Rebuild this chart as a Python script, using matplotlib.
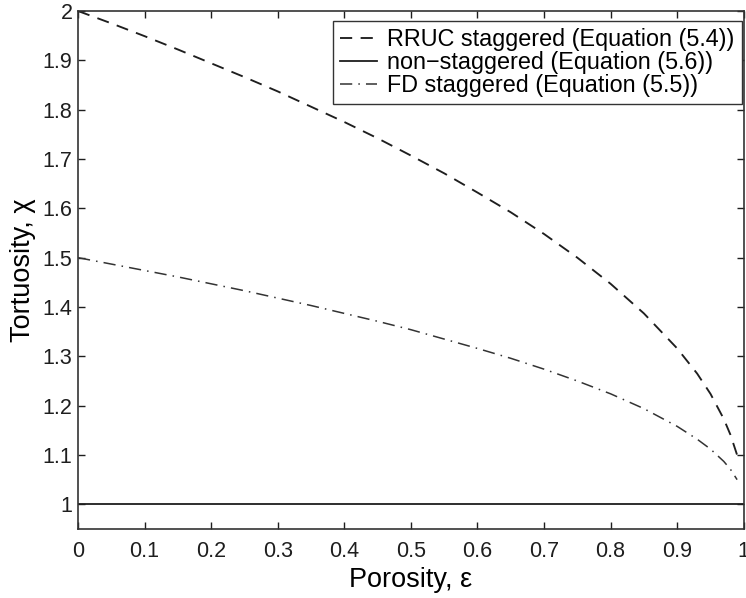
import matplotlib
matplotlib.use("Agg")
import matplotlib.pyplot as plt

plt.rcParams['font.family'] = ['Liberation Sans', 'DejaVu Sans']

porosity = [0.0, 0.05, 0.1, 0.15, 0.2, 0.25, 0.3, 0.35, 0.4, 0.45, 0.5, 0.55,
            0.6, 0.65, 0.7, 0.75, 0.8, 0.85, 0.9, 0.93, 0.95, 0.97, 0.98, 0.99]
rruc_staggered = [2.000, 1.975, 1.949, 1.922, 1.894, 1.866, 1.837, 1.806, 1.775,
                  1.742, 1.707, 1.671, 1.632, 1.592, 1.548, 1.500, 1.447, 1.387,
                  1.316, 1.265, 1.224, 1.173, 1.141, 1.100]
fd_staggered = [1.500, 1.487, 1.474, 1.461, 1.447, 1.433, 1.418, 1.403, 1.387,
                1.371, 1.354, 1.335, 1.316, 1.296, 1.274, 1.250, 1.224, 1.194,
                1.158, 1.132, 1.112, 1.087, 1.071, 1.050]
nonstag_x = [0.0, 1.0]
nonstag_y = [1.0, 1.0]

labels = ["RRUC staggered (Equation (5.4))",
          "non\u2212staggered (Equation (5.6))",
          "FD staggered (Equation (5.5))"]
xticks = [0, 0.1, 0.2, 0.3, 0.4, 0.5, 0.6, 0.7, 0.8, 0.9, 1]
xticklabels = ['0', '0.1', '0.2', '0.3', '0.4', '0.5', '0.6', '0.7', '0.8', '0.9', '1']
yticks = [1, 1.1, 1.2, 1.3, 1.4, 1.5, 1.6, 1.7, 1.8, 1.9, 2]
yticklabels = ['1', '1.1', '1.2', '1.3', '1.4', '1.5', '1.6', '1.7', '1.8', '1.9', '2']

fig = plt.figure(figsize=(7.46, 5.98), dpi=100)
ax = fig.add_axes([0.1046, 0.1154, 0.8924, 0.8662])

ax.plot(porosity, rruc_staggered, color='#1e1e1e', lw=1.35,
        linestyle=(0, (6.5, 4.5)), label=labels[0])
ax.plot(nonstag_x, nonstag_y, color='#1e1e1e', lw=1.3,
        linestyle='-', label=labels[1])
ax.plot(porosity, fd_staggered, color='#333333', lw=1.1,
        linestyle=(0, (8, 4, 1, 4)), label=labels[2])

ax.set_xlim(0, 1)
ax.set_ylim(0.95, 2)
ax.set_xticks(xticks)
ax.set_xticklabels(xticklabels)
ax.set_yticks(yticks)
ax.set_yticklabels(yticklabels)
ax.tick_params(direction='in', length=5, width=1.0, top=True, right=True,
               labelsize=15.5, colors='#1e1e1e')
ax.tick_params(axis='x', pad=9)
ax.tick_params(axis='y', pad=4)
for s in ax.spines.values():
    s.set_linewidth(1.2)
    s.set_color('#333333')

ax.set_xlabel("Porosity, \u03b5", fontsize=19.5, labelpad=3)
ax.set_ylabel("Tortuosity, \u03c7", fontsize=19.5, labelpad=5)

leg = ax.legend(loc='upper right', bbox_to_anchor=(0.997, 0.9807),
                borderaxespad=0, fontsize=16.8, frameon=True, fancybox=False,
                edgecolor='#333333', framealpha=1, borderpad=0.3,
                labelspacing=0.0, handlelength=1.6, handletextpad=0.45)
leg.get_frame().set_linewidth(1.0)

fig.savefig("out.png", dpi=100)
